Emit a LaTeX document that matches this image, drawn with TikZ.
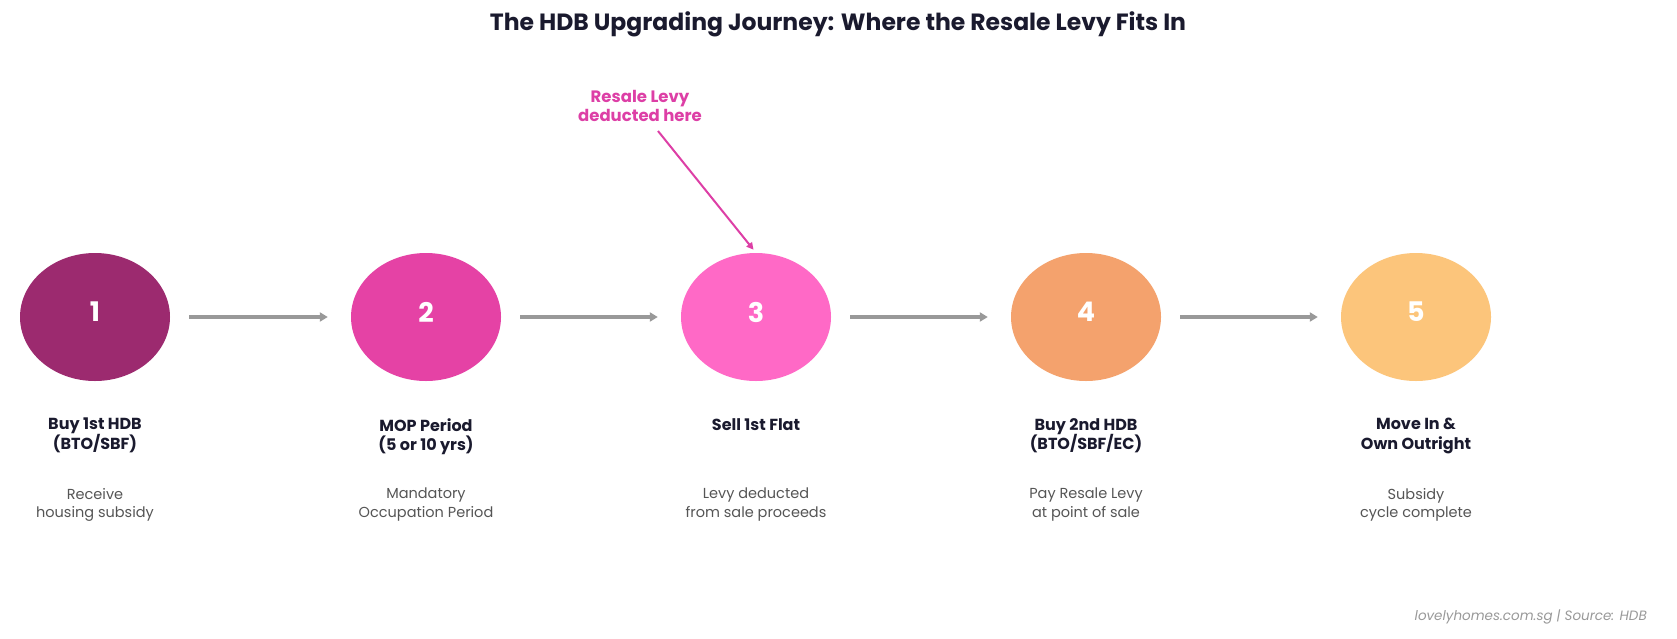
\documentclass[tikz,border=0pt]{standalone}
\usepackage{fontspec}
\setmainfont{Poppins}[BoldFont={Poppins Bold}]
\usetikzlibrary{shapes.geometric,arrows.meta}
\definecolor{cA}{HTML}{9C2A6F}
\definecolor{cB}{HTML}{E542A5}
\definecolor{cC}{HTML}{FF69C6}
\definecolor{cD}{HTML}{F4A26D}
\definecolor{cE}{HTML}{FCC57B}
\definecolor{navy}{HTML}{1A1A2E}
\definecolor{desc}{HTML}{555555}
\definecolor{arrgray}{HTML}{999999}
\definecolor{mag}{HTML}{DD3FA6}
\tikzset{
  stepdot/.style={ellipse, minimum width=150pt, minimum height=128pt, inner sep=0pt},
  stepnum/.style={text=white, inner sep=0pt, font=\fontsize{27}{30}\selectfont\bfseries},
  steptitle/.style={anchor=north, align=center, text=navy, inner sep=0pt,
    font=\fontsize{16}{19.5}\selectfont\bfseries},
  stepdesc/.style={anchor=north, align=center, text=desc, inner sep=0pt,
    font=\fontsize{14.5}{18.5}\selectfont},
  flow/.style={draw=arrgray, line width=3.4pt, -{Triangle[length=8pt,width=9pt]}, shorten <=19pt, shorten >=23pt},
}
\begin{document}
\begin{tikzpicture}[x=1pt,y=-1pt]
\useasboundingbox[fill=white] (0,0) rectangle (1677,638);
\node[text=navy, font=\fontsize{23.5}{26}\selectfont\bfseries] (title) at (838,24) {The HDB Upgrading Journey: Where the Resale Levy Fits In};

\node[stepdot, fill=cA] (e1) at (95,317) {};
\node[stepdot, fill=cB] (e2) at (426,317) {};
\node[stepdot, fill=cC] (e3) at (756,317) {};
\node[stepdot, fill=cD] (e4) at (1086,317) {};
\node[stepdot, fill=cE] (e5) at (1416,317) {};
\node[stepnum] (n1) at (95,312) {1};
\node[stepnum] (n2) at (426,312) {2};
\node[stepnum] (n3) at (756,312) {3};
\node[stepnum] (n4) at (1086,312) {4};
\node[stepnum] (n5) at (1416,312) {5};

\draw[flow] (e1) -- (e2);
\draw[flow] (e2) -- (e3);
\draw[flow] (e3) -- (e4);
\draw[flow] (e4) -- (e5);

\node[steptitle] (t1) at (95,418) {Buy 1st HDB\\(BTO/SBF)};
\node[steptitle] (t2) at (426,418) {MOP Period\\(5 or 10 yrs)};
\node[steptitle] (t3) at (756,418) {Sell 1st Flat};
\node[steptitle] (t4) at (1086,418) {Buy 2nd HDB\\(BTO/SBF/EC)};
\node[steptitle] (t5) at (1416,418) {Move In \&\\Own Outright};

\node[stepdesc] (d1) at (95,488) {Receive\\housing subsidy};
\node[stepdesc] (d2) at (426,488) {Mandatory\\Occupation Period};
\node[stepdesc] (d3) at (756,488) {Levy deducted\\from sale proceeds};
\node[stepdesc] (d4) at (1086,488) {Pay Resale Levy\\at point of sale};
\node[stepdesc] (d5) at (1416,488) {Subsidy\\cycle complete};

\node[align=center, text=mag, inner sep=0pt, font=\fontsize{16.5}{18.5}\selectfont\bfseries] (note) at (640,106) {Resale Levy\\deducted here};
\coordinate (ns) at (658,131);
\draw[mag, line width=2pt, -{Triangle[length=7pt,width=7pt]}, shorten >=4pt] (ns) -- (e3.north);

\node[anchor=east, text=arrgray, inner sep=0pt, font=\fontsize{13.5}{16}\selectfont\itshape] (src) at (1647,617) {lovelyhomes.com.sg | Source: HDB};
\end{tikzpicture}
\end{document}
